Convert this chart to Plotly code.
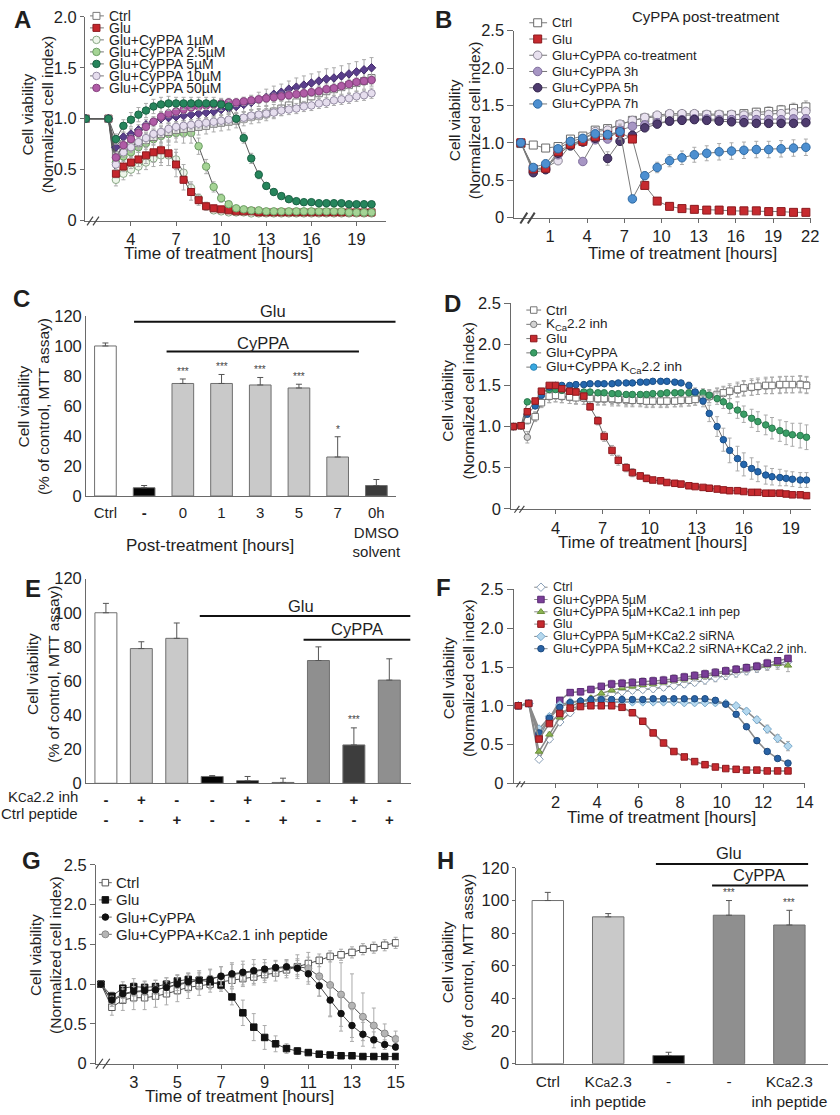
import plotly.graph_objects as go

W, H = 840, 1115
FONT = "Liberation Sans, Arial, Helvetica, sans-serif"
TXT = "#1f1f1f"
AX = "#6a6a6a"
ERR = "#ababab"

# ======================= Panel A =======================
t_A = [1, 2.5, 3, 3.5, 4, 4.5, 5, 5.5, 6, 6.5,
       7, 7.5, 8, 8.5, 9, 9.5, 10, 10.5, 11, 11.5,
       12, 12.5, 13, 13.5, 14, 14.5, 15, 15.5, 16, 16.5,
       17, 17.5, 18, 18.5, 19, 19.5, 20]
A_ctrl = [1.00, 1.00, 0.64, 0.70, 0.73, 0.76, 0.79, 0.82, 0.85, 0.87,
          0.89, 0.90, 0.91, 0.92, 0.93, 0.95, 0.96, 0.97, 0.98, 1.00,
          1.02, 1.03, 1.05, 1.07, 1.10, 1.13, 1.16, 1.19, 1.22, 1.25,
          1.27, 1.29, 1.31, 1.33, 1.35, 1.37, 1.40]
A_glu = [1.00, 1.00, 0.46, 0.53, 0.57, 0.60, 0.64, 0.67, 0.69, 0.66,
         0.55, 0.40, 0.28, 0.20, 0.14, 0.12, 0.11, 0.10, 0.09, 0.09,
         0.09, 0.08, 0.08, 0.08, 0.08, 0.08, 0.08, 0.08, 0.08, 0.08,
         0.08, 0.08, 0.08, 0.08, 0.08, 0.08, 0.08]
A_c1 = [1.00, 1.00, 0.40, 0.46, 0.50, 0.53, 0.57, 0.61, 0.64, 0.64,
        0.60, 0.47, 0.32, 0.22, 0.14, 0.10, 0.09, 0.08, 0.08, 0.08,
        0.07, 0.07, 0.07, 0.07, 0.07, 0.07, 0.07, 0.07, 0.07, 0.07,
        0.07, 0.07, 0.07, 0.07, 0.07, 0.07, 0.07]
A_c25 = [1.00, 1.00, 0.57, 0.63, 0.67, 0.72, 0.76, 0.80, 0.83, 0.85,
         0.86, 0.86, 0.86, 0.73, 0.53, 0.33, 0.22, 0.16, 0.12, 0.11,
         0.10, 0.10, 0.09, 0.09, 0.09, 0.09, 0.09, 0.09, 0.09, 0.09,
         0.09, 0.09, 0.09, 0.08, 0.08, 0.08, 0.08]
A_c5 = [1.00, 1.00, 0.80, 0.93, 0.99, 1.04, 1.08, 1.12, 1.14, 1.15,
        1.15, 1.15, 1.15, 1.15, 1.15, 1.15, 1.14, 1.12, 1.00, 0.81,
        0.61, 0.45, 0.34, 0.28, 0.24, 0.21, 0.19, 0.18, 0.18, 0.17,
        0.17, 0.17, 0.17, 0.16, 0.16, 0.16, 0.16]
A_c10 = [1.00, 1.00, 0.55, 0.67, 0.72, 0.77, 0.81, 0.85, 0.87, 0.90,
         0.92, 0.93, 0.94, 0.95, 0.96, 0.97, 0.98, 0.99, 1.00, 1.01,
         1.03, 1.04, 1.05, 1.06, 1.08, 1.09, 1.10, 1.12, 1.13, 1.15,
         1.16, 1.18, 1.19, 1.20, 1.22, 1.23, 1.25]
A_c50 = [1.00, 1.00, 0.62, 0.74, 0.80, 0.86, 0.92, 0.97, 1.02, 1.05,
         1.07, 1.09, 1.11, 1.12, 1.13, 1.14, 1.15, 1.16, 1.16, 1.17,
         1.18, 1.19, 1.20, 1.21, 1.22, 1.23, 1.24, 1.25, 1.26, 1.27,
         1.29, 1.30, 1.32, 1.34, 1.36, 1.37, 1.38]
A_dia = [1.00, 1.00, 0.72, 0.82, 0.85, 0.89, 0.94, 0.97, 1.00, 1.01,
         1.02, 1.03, 1.04, 1.05, 1.06, 1.07, 1.09, 1.10, 1.12, 1.14,
         1.16, 1.19, 1.21, 1.24, 1.26, 1.29, 1.31, 1.33, 1.35, 1.37,
         1.39, 1.40, 1.42, 1.44, 1.46, 1.48, 1.50]
A_ctrl_err = [0, 0, 0.05, 0.05, 0.06, 0.06, 0.07, 0.07, 0.08, 0.08,
              0.08, 0.08, 0.08, 0.08, 0.08, 0.08, 0.08, 0.08, 0.07, 0.07,
              0.07, 0.07, 0.07, 0.07, 0.07, 0.07, 0.07, 0.07, 0.07, 0.07,
              0.08, 0.08, 0.08, 0.08, 0.08, 0.08, 0.08]
A_glu_err = [0, 0, 0.04, 0.05, 0.06, 0.07, 0.08, 0.10, 0.12, 0.12,
             0.12, 0.10, 0.08, 0.05, 0.04, 0.03, 0.02, 0.02, 0.02, 0.02,
             0.02, 0.02, 0.02, 0.02, 0.02, 0.02, 0.02, 0.02, 0.02, 0.02,
             0.02, 0.02, 0.02, 0.02, 0.02, 0.02, 0.02]
A_c1_err = [0, 0, 0.06, 0.06, 0.06, 0.07, 0.07, 0.08, 0.10, 0.10,
            0.10, 0.08, 0.06, 0.04, 0.03, 0.02, 0.02, 0.02, 0.02, 0.02,
            0.02, 0.02, 0.02, 0.02, 0.02, 0.02, 0.02, 0.02, 0.02, 0.02,
            0.02, 0.02, 0.02, 0.02, 0.02, 0.02, 0.02]
A_c25_err = [0, 0, 0.04, 0.04, 0.05, 0.05, 0.06, 0.06, 0.07, 0.08,
             0.09, 0.10, 0.10, 0.08, 0.07, 0.05, 0.04, 0.03, 0.02, 0.02,
             0.02, 0.02, 0.02, 0.02, 0.02, 0.02, 0.02, 0.02, 0.02, 0.02,
             0.02, 0.02, 0.02, 0.02, 0.02, 0.02, 0.02]
A_c5_err = [0, 0, 0.05, 0.06, 0.07, 0.07, 0.07, 0.07, 0.07, 0.07,
            0.06, 0.06, 0.06, 0.06, 0.06, 0.06, 0.06, 0.06, 0.05, 0.05,
            0.05, 0.04, 0.03, 0.03, 0.02, 0.02, 0.02, 0.02, 0.02, 0.02,
            0.02, 0.02, 0.02, 0.02, 0.02, 0.02, 0.02]
A_c10_err = [0, 0, 0.05, 0.05, 0.05, 0.05, 0.05, 0.05, 0.05, 0.05,
             0.05, 0.05, 0.05, 0.05, 0.05, 0.05, 0.05, 0.05, 0.05, 0.05,
             0.05, 0.05, 0.05, 0.05, 0.05, 0.05, 0.05, 0.05, 0.05, 0.05,
             0.05, 0.05, 0.05, 0.05, 0.05, 0.05, 0.05]
A_c50_err = [0, 0, 0.04, 0.04, 0.04, 0.04, 0.04, 0.04, 0.04, 0.04,
             0.04, 0.04, 0.04, 0.04, 0.04, 0.04, 0.04, 0.04, 0.04, 0.04,
             0.04, 0.04, 0.04, 0.04, 0.04, 0.04, 0.04, 0.04, 0.04, 0.04,
             0.04, 0.04, 0.04, 0.04, 0.04, 0.04, 0.04]
A_dia_err = [0, 0, 0.04, 0.04, 0.05, 0.05, 0.05, 0.05, 0.05, 0.05,
             0.05, 0.05, 0.05, 0.05, 0.06, 0.06, 0.06, 0.06, 0.06, 0.07,
             0.07, 0.07, 0.08, 0.08, 0.08, 0.08, 0.09, 0.09, 0.09, 0.09,
             0.10, 0.10, 0.10, 0.10, 0.10, 0.10, 0.10]

# ======================= Panel B =======================
t_B = [-1.35, -0.35, 0.65, 1.65, 2.65, 3.65, 4.65, 5.65, 6.65, 7.65,
       8.65, 9.65, 10.65, 11.65, 12.65, 13.65, 14.65, 15.65, 16.65, 17.65,
       18.65, 19.65, 20.65, 21.65]
B_ctrl = [0.99, 0.97, 0.93, 0.95, 1.05, 1.09, 1.17, 1.19, 1.24, 1.30,
          1.33, 1.35, 1.37, 1.37, 1.37, 1.37, 1.37, 1.37, 1.39, 1.41,
          1.42, 1.44, 1.46, 1.48]
B_glu = [1.00, 0.65, 0.66, 0.88, 0.98, 1.02, 1.08, 1.10, 1.14, 1.05,
         0.43, 0.22, 0.15, 0.12, 0.11, 0.10, 0.10, 0.09, 0.09, 0.09,
         0.08, 0.08, 0.07, 0.07]
B_co = [1.00, 0.65, 0.67, 0.76, 0.97, 1.05, 1.15, 1.17, 1.25, 1.30,
        1.34, 1.37, 1.39, 1.39, 1.39, 1.38, 1.38, 1.38, 1.37, 1.38,
        1.38, 1.39, 1.40, 1.42]
B_3h = [1.00, 0.63, 0.65, 0.84, 0.97, 0.75, 1.04, 1.05, 1.17, 1.22,
        1.24, 1.27, 1.29, 1.31, 1.32, 1.32, 1.31, 1.31, 1.31, 1.31,
        1.31, 1.31, 1.32, 1.32]
B_5h = [1.00, 0.60, 0.64, 0.86, 0.96, 1.01, 1.06, 0.79, 1.02, 1.10,
        1.20, 1.25, 1.29, 1.30, 1.31, 1.30, 1.29, 1.28, 1.27, 1.26,
        1.26, 1.26, 1.26, 1.27]
B_7h = [1.00, 0.67, 0.72, 0.92, 1.02, 1.06, 1.12, 1.11, 1.15, 0.25,
        0.56, 0.67, 0.76, 0.80, 0.84, 0.86, 0.88, 0.89, 0.90, 0.91,
        0.91, 0.92, 0.93, 0.94]
B_ctrl_err = [0, 0.02, 0.03, 0.03, 0.04, 0.04, 0.04, 0.04, 0.05, 0.05,
              0.05, 0.05, 0.05, 0.04, 0.04, 0.04, 0.04, 0.04, 0.05, 0.05,
              0.06, 0.06, 0.07, 0.08]
B_glu_err = [0, 0.03, 0.03, 0.03, 0.03, 0.03, 0.03, 0.03, 0.03, 0.03,
             0.03, 0.02, 0.02, 0.02, 0.02, 0.02, 0.02, 0.02, 0.02, 0.02,
             0.02, 0.02, 0.02, 0.02]
B_co_err = [0, 0.03, 0.03, 0.04, 0.04, 0.04, 0.04, 0.04, 0.04, 0.04,
            0.04, 0.04, 0.04, 0.04, 0.04, 0.04, 0.04, 0.04, 0.05, 0.05,
            0.05, 0.05, 0.05, 0.05]
B_3h_err = [0, 0.03, 0.03, 0.04, 0.05, 0.03, 0.04, 0.04, 0.04, 0.04,
            0.04, 0.04, 0.04, 0.04, 0.04, 0.04, 0.04, 0.04, 0.04, 0.04,
            0.04, 0.04, 0.04, 0.04]
B_5h_err = [0, 0.03, 0.04, 0.05, 0.06, 0.05, 0.05, 0.09, 0.05, 0.05,
            0.05, 0.05, 0.04, 0.04, 0.04, 0.04, 0.04, 0.04, 0.04, 0.04,
            0.04, 0.04, 0.04, 0.04]
B_7h_err = [0, 0.03, 0.04, 0.04, 0.05, 0.05, 0.05, 0.06, 0.10, 0.03,
            0.05, 0.07, 0.08, 0.09, 0.10, 0.10, 0.11, 0.11, 0.11, 0.11,
            0.11, 0.11, 0.11, 0.11]

# ======================= Panel C =======================
C_cats = ["Ctrl", "<b>-</b>", "0", "1", "3", "5", "7", "0h<br>DMSO<br>solvent"]
C_vals = [100, 5.5, 75, 75, 74, 72, 26, 7]
C_err = [2, 1.5, 3, 6, 5, 2.5, 13.5, 4]
C_sig = ["", "", "***", "***", "***", "***", "*", ""]
C_colors = ["#ffffff", "#050505", "#c9c9c9", "#c9c9c9", "#c9c9c9", "#c9c9c9", "#c9c9c9", "#3b3b3b"]

# ======================= Panel D =======================
t_D = [1.3, 1.8, 2.2, 2.7, 3.1, 3.6, 4.0, 4.4, 4.9, 5.3,
       5.8, 6.2, 6.7, 7.1, 7.6, 8.0, 8.5, 8.9, 9.4, 9.8,
       10.2, 10.7, 11.1, 11.6, 12.0, 12.5, 12.9, 13.4, 13.8, 14.3,
       14.7, 15.1, 15.6, 16.0, 16.5, 16.9, 17.4, 17.8, 18.3, 18.7,
       19.1, 19.6, 20.0]
D_ctrl = [1.00, 1.01, 1.08, 1.12, 1.29, 1.37, 1.38, 1.37, 1.36, 1.35,
          1.35, 1.34, 1.34, 1.34, 1.34, 1.33, 1.33, 1.32, 1.32, 1.31,
          1.31, 1.31, 1.31, 1.31, 1.32, 1.32, 1.33, 1.35, 1.37, 1.39,
          1.41, 1.43, 1.45, 1.47, 1.48, 1.49, 1.50, 1.50, 1.51, 1.51,
          1.51, 1.51, 1.50]
D_kca = [1.00, 1.01, 0.87, 1.12, 1.30, 1.36, 1.37, 1.36, 1.35, 1.35,
         1.34, 1.34, 1.33, 1.33, 1.32, 1.32, 1.31, 1.31, 1.31, 1.30,
         1.30, 1.30, 1.30, 1.31, 1.31, 1.32, 1.33, 1.34, 1.36, 1.38,
         1.40, 1.42, 1.44, 1.46, 1.47, 1.48, 1.49, 1.50, 1.50, 1.51,
         1.51, 1.52, 1.51]
D_glu = [1.00, 1.01, 1.18, 1.31, 1.43, 1.50, 1.50, 1.46, 1.43, 1.42,
         1.37, 1.24, 1.07, 0.88, 0.71, 0.59, 0.50, 0.44, 0.40, 0.37,
         0.35, 0.34, 0.32, 0.31, 0.30, 0.28, 0.27, 0.26, 0.25, 0.24,
         0.23, 0.22, 0.22, 0.21, 0.20, 0.20, 0.19, 0.19, 0.19, 0.18,
         0.17, 0.17, 0.16]
D_cy = [1.00, 1.01, 1.30, 1.30, 1.42, 1.45, 1.45, 1.44, 1.43, 1.43,
        1.42, 1.42, 1.41, 1.41, 1.40, 1.40, 1.39, 1.39, 1.39, 1.39,
        1.40, 1.40, 1.41, 1.41, 1.41, 1.41, 1.41, 1.41, 1.38, 1.34,
        1.30, 1.25, 1.20, 1.15, 1.10, 1.06, 1.02, 0.98, 0.95, 0.92,
        0.90, 0.89, 0.87]
D_cyinh = [1.00, 1.01, 1.15, 1.25, 1.38, 1.48, 1.50, 1.50, 1.50, 1.51,
           1.51, 1.52, 1.52, 1.52, 1.52, 1.53, 1.53, 1.53, 1.54, 1.54,
           1.55, 1.55, 1.55, 1.54, 1.53, 1.50, 1.42, 1.31, 1.16, 1.00,
           0.84, 0.71, 0.61, 0.54, 0.49, 0.45, 0.41, 0.39, 0.38, 0.37,
           0.36, 0.35, 0.35]
D_ctrl_err = [0, 0, 0.05, 0.05, 0.06, 0.08, 0.08, 0.08, 0.08, 0.08,
              0.08, 0.08, 0.07, 0.07, 0.07, 0.07, 0.07, 0.07, 0.07, 0.07,
              0.07, 0.07, 0.07, 0.07, 0.07, 0.07, 0.07, 0.07, 0.08, 0.08,
              0.08, 0.09, 0.09, 0.09, 0.10, 0.10, 0.10, 0.10, 0.10, 0.10,
              0.10, 0.10, 0.10]
D_kca_err = [0, 0, 0.07, 0.06, 0.06, 0.07, 0.07, 0.07, 0.07, 0.07,
             0.07, 0.07, 0.07, 0.07, 0.07, 0.07, 0.07, 0.07, 0.07, 0.07,
             0.07, 0.07, 0.07, 0.07, 0.07, 0.07, 0.07, 0.07, 0.07, 0.08,
             0.08, 0.08, 0.08, 0.09, 0.09, 0.09, 0.09, 0.10, 0.10, 0.10,
             0.10, 0.10, 0.10]
D_glu_err = [0, 0, 0.03, 0.03, 0.03, 0.03, 0.03, 0.03, 0.03, 0.03,
             0.03, 0.04, 0.05, 0.06, 0.06, 0.06, 0.05, 0.05, 0.04, 0.04,
             0.03, 0.03, 0.03, 0.02, 0.02, 0.02, 0.02, 0.02, 0.02, 0.02,
             0.02, 0.02, 0.02, 0.02, 0.02, 0.02, 0.02, 0.02, 0.02, 0.02,
             0.02, 0.02, 0.02]
D_cy_err = [0, 0, 0.03, 0.03, 0.03, 0.03, 0.03, 0.03, 0.03, 0.03,
            0.03, 0.03, 0.03, 0.03, 0.03, 0.03, 0.03, 0.03, 0.03, 0.03,
            0.03, 0.03, 0.03, 0.03, 0.03, 0.04, 0.04, 0.05, 0.06, 0.07,
            0.08, 0.09, 0.10, 0.10, 0.11, 0.12, 0.12, 0.13, 0.13, 0.14,
            0.14, 0.15, 0.15]
D_cyinh_err = [0, 0, 0.03, 0.03, 0.03, 0.03, 0.03, 0.03, 0.03, 0.03,
               0.03, 0.03, 0.03, 0.03, 0.03, 0.03, 0.03, 0.03, 0.03, 0.03,
               0.03, 0.03, 0.03, 0.03, 0.03, 0.04, 0.05, 0.07, 0.10, 0.12,
               0.14, 0.15, 0.15, 0.14, 0.13, 0.12, 0.11, 0.10, 0.10, 0.09,
               0.09, 0.09, 0.09]

# ======================= Panel E =======================
E_kca = ["-", "+", "-", "-", "+", "-", "-", "+", "-"]
E_pep = ["-", "-", "+", "-", "-", "+", "-", "-", "+"]
E_vals = [100, 79, 85, 4, 1.5, 0.5, 72, 22.5, 60.5]
E_err = [5.5, 4, 9, 0.5, 2.5, 2.5, 8, 10, 12.5]
E_sig = ["", "", "", "", "", "", "", "***", ""]
E_colors = ["#ffffff", "#c9c9c9", "#c9c9c9", "#050505", "#050505", "#050505", "#8f8f8f", "#3d3d3d", "#8f8f8f"]

# ======================= Panel F =======================
t_F = [0.2, 0.7, 1.2, 1.7, 2.2, 2.7, 3.2, 3.7, 4.2, 4.7,
       5.2, 5.7, 6.2, 6.7, 7.2, 7.7, 8.2, 8.7, 9.2, 9.7,
       10.2, 10.7, 11.2, 11.7, 12.2, 12.7, 13.2]
F_ctrl = [1.00, 1.03, 0.31, 0.57, 0.79, 0.91, 1.00, 1.05, 1.10, 1.15,
          1.18, 1.20, 1.21, 1.22, 1.24, 1.26, 1.28, 1.30, 1.33, 1.36,
          1.39, 1.42, 1.45, 1.48, 1.51, 1.54, 1.57]
F_cy5 = [1.00, 1.03, 0.60, 0.83, 1.07, 1.17, 1.18, 1.21, 1.25, 1.28,
         1.29, 1.30, 1.31, 1.32, 1.33, 1.35, 1.37, 1.39, 1.41, 1.43,
         1.45, 1.47, 1.49, 1.51, 1.55, 1.58, 1.61]
F_k21 = [1.00, 1.03, 0.41, 0.63, 0.85, 0.99, 1.05, 1.10, 1.16, 1.20,
         1.23, 1.25, 1.27, 1.28, 1.30, 1.32, 1.34, 1.36, 1.38, 1.41,
         1.43, 1.46, 1.48, 1.50, 1.52, 1.54, 1.52]
F_glu = [1.00, 1.03, 0.57, 0.77, 0.90, 0.97, 0.99, 1.00, 1.00, 1.00,
         0.98, 0.91, 0.80, 0.65, 0.52, 0.41, 0.34, 0.28, 0.24, 0.21,
         0.19, 0.18, 0.17, 0.17, 0.16, 0.16, 0.16]
F_si = [1.00, 1.03, 0.70, 0.86, 1.01, 1.05, 1.06, 1.06, 1.06, 1.05,
        1.05, 1.05, 1.05, 1.05, 1.05, 1.05, 1.04, 1.04, 1.04, 1.04,
        1.03, 1.00, 0.93, 0.82, 0.70, 0.58, 0.48]
F_siinh = [1.00, 1.03, 0.65, 0.84, 0.98, 1.04, 1.06, 1.08, 1.08, 1.08,
           1.08, 1.08, 1.08, 1.09, 1.09, 1.09, 1.09, 1.09, 1.09, 1.07,
           1.02, 0.89, 0.73, 0.55, 0.41, 0.32, 0.26]
F_ctrl_err = [0, 0, 0.03, 0.04, 0.04, 0.04, 0.04, 0.04, 0.04, 0.04,
              0.04, 0.04, 0.04, 0.04, 0.04, 0.04, 0.04, 0.04, 0.05, 0.05,
              0.05, 0.05, 0.05, 0.05, 0.05, 0.05, 0.05]
F_cy5_err = [0, 0, 0.03, 0.03, 0.03, 0.03, 0.04, 0.04, 0.04, 0.05,
             0.05, 0.05, 0.05, 0.05, 0.05, 0.05, 0.05, 0.05, 0.05, 0.05,
             0.05, 0.05, 0.05, 0.05, 0.05, 0.04, 0.04]
F_k21_err = [0, 0, 0.03, 0.03, 0.03, 0.03, 0.03, 0.03, 0.03, 0.03,
             0.03, 0.03, 0.03, 0.03, 0.03, 0.03, 0.04, 0.04, 0.04, 0.04,
             0.05, 0.05, 0.05, 0.05, 0.06, 0.07, 0.08]
F_glu_err = [0, 0, 0.02, 0.02, 0.02, 0.02, 0.02, 0.02, 0.02, 0.02,
             0.02, 0.02, 0.02, 0.02, 0.02, 0.02, 0.02, 0.02, 0.02, 0.02,
             0.02, 0.02, 0.02, 0.02, 0.02, 0.02, 0.02]
F_si_err = [0, 0, 0.03, 0.03, 0.03, 0.03, 0.03, 0.03, 0.03, 0.03,
            0.03, 0.03, 0.03, 0.03, 0.03, 0.03, 0.03, 0.03, 0.03, 0.03,
            0.03, 0.03, 0.03, 0.04, 0.05, 0.05, 0.06]
F_siinh_err = [0, 0, 0.03, 0.03, 0.03, 0.03, 0.03, 0.03, 0.03, 0.03,
               0.03, 0.03, 0.03, 0.03, 0.03, 0.03, 0.03, 0.03, 0.03, 0.03,
               0.03, 0.03, 0.03, 0.03, 0.03, 0.03, 0.03]

# ======================= Panel G =======================
t_G = [1.5, 2.0, 2.5, 3.0, 3.5, 4.0, 4.5, 5.0, 5.5, 6.0,
       6.5, 7.0, 7.5, 8.0, 8.5, 9.0, 9.5, 10.0, 10.5, 11.0,
       11.5, 12.0, 12.5, 13.0, 13.5, 14.0, 14.5, 15.0]
G_ctrl = [1.00, 0.71, 0.80, 0.83, 0.83, 0.85, 0.88, 0.92, 0.96, 0.98,
          1.00, 1.03, 1.05, 1.07, 1.09, 1.12, 1.14, 1.18, 1.22, 1.26,
          1.30, 1.35, 1.37, 1.40, 1.44, 1.46, 1.49, 1.52]
G_glu = [1.00, 0.85, 0.95, 0.97, 0.96, 0.97, 1.00, 1.04, 1.06, 1.05,
         1.03, 0.99, 0.84, 0.64, 0.46, 0.33, 0.25, 0.19, 0.16, 0.14,
         0.12, 0.11, 0.10, 0.10, 0.09, 0.09, 0.09, 0.09]
G_cy = [1.00, 0.80, 0.88, 0.91, 0.92, 0.93, 0.96, 1.00, 1.03, 1.05,
        1.06, 1.10, 1.13, 1.15, 1.17, 1.19, 1.21, 1.22, 1.20, 1.13,
        0.98, 0.80, 0.63, 0.48, 0.37, 0.30, 0.24, 0.21]
G_k21 = [1.00, 0.78, 0.87, 0.90, 0.91, 0.93, 0.96, 0.99, 1.02, 1.05,
         1.07, 1.10, 1.12, 1.14, 1.16, 1.18, 1.20, 1.21, 1.22, 1.20,
         1.10, 0.99, 0.87, 0.73, 0.59, 0.48, 0.38, 0.31]
G_ctrl_err = [0, 0.10, 0.13, 0.15, 0.15, 0.14, 0.14, 0.14, 0.14, 0.12,
              0.10, 0.10, 0.10, 0.10, 0.10, 0.10, 0.10, 0.10, 0.10, 0.08,
              0.08, 0.07, 0.07, 0.07, 0.07, 0.07, 0.07, 0.07]
G_glu_err = [0, 0.05, 0.08, 0.10, 0.08, 0.08, 0.08, 0.08, 0.08, 0.08,
             0.08, 0.08, 0.10, 0.16, 0.17, 0.15, 0.10, 0.06, 0.04, 0.03,
             0.02, 0.02, 0.02, 0.02, 0.02, 0.02, 0.02, 0.02]
G_cy_err = [0, 0.05, 0.06, 0.06, 0.06, 0.06, 0.07, 0.08, 0.10, 0.10,
            0.12, 0.12, 0.12, 0.10, 0.08, 0.08, 0.08, 0.08, 0.10, 0.10,
            0.13, 0.20, 0.22, 0.20, 0.15, 0.10, 0.06, 0.04]
G_k21_err = [0, 0.06, 0.10, 0.12, 0.12, 0.12, 0.12, 0.12, 0.12, 0.12,
             0.12, 0.12, 0.15, 0.15, 0.15, 0.13, 0.10, 0.10, 0.15, 0.20,
             0.25, 0.40, 0.40, 0.40, 0.30, 0.22, 0.12, 0.10]

# ======================= Panel H =======================
KCA23 = "K<span style='font-size:12px'>Ca</span>2.3<br>inh peptide"
H_cats = ["Ctrl", KCA23, "-", "-", KCA23]
H_vals = [100, 90, 5, 91, 85]
H_err = [5, 2, 2, 9, 9]
H_sig = ["", "", "", "***", "***"]
H_colors = ["#ffffff", "#c9c9c9", "#050505", "#8f8f8f", "#8f8f8f"]

# ---------- sanity ----------
for tt, group in [(t_A, [A_ctrl, A_glu, A_c1, A_c25, A_c5, A_c10, A_c50, A_dia, A_ctrl_err, A_glu_err,
                         A_c1_err, A_c25_err, A_c5_err, A_c10_err, A_c50_err, A_dia_err]),
                  (t_B, [B_ctrl, B_glu, B_co, B_3h, B_5h, B_7h, B_ctrl_err, B_glu_err, B_co_err,
                         B_3h_err, B_5h_err, B_7h_err]),
                  (t_D, [D_ctrl, D_kca, D_glu, D_cy, D_cyinh, D_ctrl_err, D_kca_err, D_glu_err,
                         D_cy_err, D_cyinh_err]),
                  (t_F, [F_ctrl, F_cy5, F_k21, F_glu, F_si, F_siinh, F_ctrl_err, F_cy5_err,
                         F_k21_err, F_glu_err, F_si_err, F_siinh_err]),
                  (t_G, [G_ctrl, G_glu, G_cy, G_k21, G_ctrl_err, G_glu_err, G_cy_err, G_k21_err])]:
    for arr in group:
        assert len(arr) == len(tt), (len(tt), len(arr))

# ======================= figure =======================
fig = go.Figure()
ann = []
shp = []


def mk(symbol, fill, edge, size):
    return dict(symbol=symbol, color=fill, size=size, line=dict(color=edge, width=1))


def series(ax, t, y, err, marker, lc, lw=1.0):
    fig.add_trace(go.Scatter(
        x=t, y=y, mode="lines+markers", xaxis="x" + ax, yaxis="y" + ax,
        line=dict(color=lc, width=lw), marker=marker, showlegend=False, hoverinfo="skip",
        error_y=dict(type="data", array=err, color=ERR, thickness=1, width=2)))


def key(x0, x1, xm, y, marker, lc, text, tx, fs):
    fig.add_trace(go.Scatter(x=[x0, x1], y=[y, y], mode="lines", xaxis="x9", yaxis="y9",
                             line=dict(color=lc, width=1), showlegend=False, hoverinfo="skip"))
    fig.add_trace(go.Scatter(x=[xm], y=[y], mode="markers", xaxis="x9", yaxis="y9",
                             marker=marker, showlegend=False, hoverinfo="skip"))
    ann.append(dict(x=tx, y=y, xref="x9", yref="y9", text=text, showarrow=False,
                    xanchor="left", yanchor="middle", font=dict(size=fs, color=TXT)))


def bars(ax, vals, err, colors, width):
    fig.add_trace(go.Bar(
        x=list(range(len(vals))), y=vals, xaxis="x" + ax, yaxis="y" + ax, width=width,
        marker=dict(color=colors, line=dict(color="#6f6f6f", width=1)),
        error_y=dict(type="data", symmetric=False, array=err, arrayminus=[0 for _ in vals],
                     color="#555555", thickness=1, width=3),
        showlegend=False, hoverinfo="skip"))


def txt(x, y, s, size=16, xref="x9", yref="y9", color=TXT, **kw):
    d = dict(x=x, y=y, xref=xref, yref=yref, text=s, showarrow=False,
             font=dict(size=size, color=color), xanchor="center", yanchor="middle")
    d.update(kw)
    ann.append(d)


# ---- Panel A ----
stA = {
    "ctrl": mk("square", "#ffffff", "#7a7a7a", 7),
    "glu": mk("square", "#c4262c", "#8c1a1f", 7),
    "c1": mk("circle", "#eef6ea", "#8aa886", 7.5),
    "c25": mk("circle", "#a5d495", "#6e9e66", 7.5),
    "c5": mk("circle", "#26855c", "#1b6244", 7.5),
    "c10": mk("circle", "#e6deee", "#978ea6", 7.5),
    "c50": mk("circle", "#b05ca6", "#874280", 7.5),
    "dia": mk("diamond", "#5a3e8c", "#42296a", 6.5),
}
LA = "#5a5a5a"
series("", t_A, A_c1, A_c1_err, stA["c1"], LA)
series("", t_A, A_glu, A_glu_err, stA["glu"], LA)
series("", t_A, A_c25, A_c25_err, stA["c25"], LA)
series("", t_A, A_ctrl, A_ctrl_err, stA["ctrl"], LA)
series("", t_A, A_c10, A_c10_err, stA["c10"], LA)
series("", t_A, A_dia, A_dia_err, stA["dia"], LA)
series("", t_A, A_c50, A_c50_err, stA["c50"], LA)
series("", t_A, A_c5, A_c5_err, stA["c5"], LA)
for i, (k, label) in enumerate([("ctrl", "Ctrl"), ("glu", "Glu"), ("c1", "Glu+CyPPA 1µM"),
                                ("c25", "Glu+CyPPA 2.5µM"), ("c5", "Glu+CyPPA 5µM"),
                                ("c10", "Glu+CyPPA 10µM"), ("c50", "Glu+CyPPA 50µM")]):
    key(91, 105, 97.5, 7 + 12.2 * i, stA[k], "#777777", label, 108, 14)

# ---- Panel B ----
stB = {
    "ctrl": mk("square", "#ffffff", "#6a6a6a", 8),
    "glu": mk("square", "#c62a2f", "#8c1a1f", 8),
    "co": mk("circle", "#e8e1ef", "#8d8797", 8.5),
    "3h": mk("circle", "#a796c4", "#7d6b9b", 8.5),
    "5h": mk("circle", "#4e3b6e", "#33254d", 8.5),
    "7h": mk("circle", "#4d8fd0", "#2e6aa3", 8.5),
}
LB = "#7a7a7a"
series("2", t_B, B_ctrl, B_ctrl_err, stB["ctrl"], LB)
series("2", t_B, B_co, B_co_err, stB["co"], LB)
series("2", t_B, B_3h, B_3h_err, stB["3h"], LB)
series("2", t_B, B_5h, B_5h_err, stB["5h"], LB)
series("2", t_B, B_glu, B_glu_err, stB["glu"], LB)
series("2", t_B, B_7h, B_7h_err, stB["7h"], LB)
for i, (k, label) in enumerate([("ctrl", "Ctrl"), ("glu", "Glu"), ("co", "Glu+CyPPA co-treatment"),
                                ("3h", "Glu+CyPPA 3h"), ("5h", "Glu+CyPPA 5h"), ("7h", "Glu+CyPPA 7h")]):
    key(535, 553, 543.5, 14 + 16.5 * i, stB[k], "#777777", label, 555.5, 13)
txt(714, 8, "CyPPA post-treatment", size=15)

# ---- Panel C ----
bars("3", C_vals, C_err, C_colors, 0.56)
for i, s in enumerate(C_sig):
    if s:
        txt(i, C_vals[i] + C_err[i] + 5, s, size=10, xref="x3", yref="y3", color="#444444")

# ---- Panel D ----
stD = {
    "ctrl": mk("square", "#ffffff", "#777777", 6.5),
    "kca": mk("circle", "#d2d2d2", "#777777", 6.5),
    "glu": mk("square", "#c62a2f", "#8c1a1f", 6.5),
    "cy": mk("circle", "#3a9e66", "#2a7a4e", 6.5),
    "cyinh": mk("circle", "#2466ad", "#1a4f88", 6.5),
}
LD = "#666666"
series("4", t_D, D_kca, D_kca_err, stD["kca"], LD)
series("4", t_D, D_ctrl, D_ctrl_err, stD["ctrl"], LD)
series("4", t_D, D_cy, D_cy_err, stD["cy"], LD)
series("4", t_D, D_cyinh, D_cyinh_err, stD["cyinh"], LD)
series("4", t_D, D_glu, D_glu_err, stD["glu"], LD)
keyD = [("ctrl", "Ctrl", stD["ctrl"]), ("kca", "K<sub>Ca</sub>2.2 inh", stD["kca"]),
        ("glu", "Glu", stD["glu"]), ("cy", "Glu+CyPPA", stD["cy"]),
        ("cyinh", "Glu+CyPPA K<sub>Ca</sub>2.2 inh", mk("circle", "#38a8e0", "#2a86b8", 6.5))]
for i, (k, label, m) in enumerate(keyD):
    key(532, 547, 539.5, 306 + 14.5 * i, m, "#777777", label, 549.5, 13.5)

# ---- Panel E ----
bars("5", E_vals, E_err, E_colors, 0.62)
for i, s in enumerate(E_sig):
    if s:
        txt(i, E_vals[i] + E_err[i] + 5, s, size=10, xref="x5", yref="y5", color="#444444")

# ---- Panel F ----
stF = {
    "ctrl": mk("diamond", "#ffffff", "#8aa0b8", 6.5),
    "cy5": mk("square", "#7a3e98", "#5a2a74", 6.5),
    "k21": mk("triangle-up", "#8db553", "#6a8f3a", 6.5),
    "glu": mk("square", "#c62a2f", "#8c1a1f", 6.5),
    "si": mk("diamond", "#b5d8ee", "#7aaacc", 6.5),
    "siinh": mk("circle", "#2a63a5", "#1d4b80", 6.5),
}
LF = "#8a8a8a"
series("6", t_F, F_ctrl, F_ctrl_err, stF["ctrl"], LF, 1.5)
series("6", t_F, F_k21, F_k21_err, stF["k21"], LF, 1.5)
series("6", t_F, F_cy5, F_cy5_err, stF["cy5"], LF, 1.5)
series("6", t_F, F_si, F_si_err, stF["si"], LF, 1.5)
series("6", t_F, F_siinh, F_siinh_err, stF["siinh"], LF, 1.5)
series("6", t_F, F_glu, F_glu_err, stF["glu"], LF, 1.5)
for i, (k, label) in enumerate([("ctrl", "Ctrl"), ("cy5", "Glu+CyPPA 5µM"),
                                ("k21", "Glu+CyPPA 5µM+KCa2.1 inh pep"), ("glu", "Glu"),
                                ("si", "Glu+CyPPA 5µM+KCa2.2 siRNA"),
                                ("siinh", "Glu+CyPPA 5µM+KCa2.2 siRNA+KCa2.2 inh.")]):
    key(540, 553.5, 546.8, 587.7 + 12.5 * i, stF[k], "#888888", label, 556.5, 12.5)

# ---- Panel G ----
stG = {
    "ctrl": mk("square", "#ffffff", "#555555", 6.5),
    "glu": mk("square", "#111111", "#111111", 6.5),
    "cy": mk("circle", "#111111", "#111111", 6.5),
    "k21": mk("circle", "#b5b5b5", "#8a8a8a", 7),
}
LG = "#4a4a4a"
series("7", t_G, G_ctrl, G_ctrl_err, stG["ctrl"], LG)
series("7", t_G, G_glu, G_glu_err, stG["glu"], LG)
series("7", t_G, G_k21, G_k21_err, stG["k21"], LG)
series("7", t_G, G_cy, G_cy_err, stG["cy"], LG)
for i, (k, label) in enumerate([("ctrl", "Ctrl"), ("glu", "Glu"), ("cy", "Glu+CyPPA"),
                                ("k21", "Glu+CyPPA+K<span style='font-size:12px'>Ca</span>2.1 inh peptide")]):
    key(100, 113, 106.5, 888 + 17.5 * i, stG[k], "#666666", label, 115.5, 15)

# ---- Panel H ----
bars("8", H_vals, H_err, H_colors, 0.52)
for i, s in enumerate(H_sig):
    if s:
        txt(i, H_vals[i] + H_err[i] + 5, s, size=10, xref="x8", yref="y8", color="#444444")


# ---- treatment brackets (bar panels) ----
def bracket(ax, x0, x1, ypx, label, lx, lypx):
    shp.append(dict(type="line", xref="x" + ax, yref="paper", x0=x0, x1=x1,
                    y0=1 - ypx / H, y1=1 - ypx / H, line=dict(color="#111111", width=2)))
    txt(lx, lypx, label, size=16.5, xref="x" + ax, yref="y9")


bracket("3", 0.74, 7.5, 318, "Glu", 4.33, 307)
bracket("3", 1.58, 6.55, 348, "CyPPA", 4.07, 339)
bracket("5", 2.65, 8.6, 617, "Glu", 5.5, 607)
bracket("5", 5.58, 8.6, 641, "CyPPA", 7.1, 630)
bracket("8", 1.79, 4.31, 869, "Glu", 3.0, 858)
bracket("8", 2.72, 4.31, 891, "CyPPA", 3.5, 880)

# ---- axis break marks ----
for (ax0, ay0, ax1, ay1, w) in [(88, 220, 94, 211, 1.2), (94, 220, 100, 211, 1.2),
                                (526, 218, 533, 207, 2), (533.5, 218, 540.5, 207, 2),
                                (520, 512, 525, 505, 1.2), (525, 512, 530, 505, 1.2),
                                (522, 791, 526, 785, 1.2), (526.5, 791, 530.5, 785, 1.2),
                                (97, 1077, 104, 1067, 1.2), (104, 1077, 111, 1067, 1.2)]:
    shp.append(dict(type="line", xref="x9", yref="y9", x0=ax0, y0=ay0, x1=ax1, y1=ay1,
                    line=dict(color="#444444", width=w)))

# ---- titles / labels ----
VI = "Cell viability<br>(Normalized cell index)"
VM = "Cell viability<br>(% of control, MTT assay)"
for (x, y, s) in [(37.5, 107, VI), (469, 113, VI), (34, 404, VM), (463, 398, VI),
                  (43, 676, VM), (463, 680, VI), (46, 962, VI), (462.5, 969, VM)]:
    txt(x, y, s, size=15.5, textangle=-90)

TT = "Time of treatment [hours]"
for (x, y) in [(221, 249), (690, 248), (660, 542), (669, 822), (242, 1105)]:
    txt(x, y, TT, size=17)
txt(212, 545, "Post-treatment [hours]", size=17)

txt(81, 800, "K<span style='font-size:12px'>Ca</span>2.2 inh", size=15, xanchor="right")
txt(81, 818, "Ctrl peptide", size=15, xanchor="right")

for (x, y, s) in [(23, 11, "A"), (448, 11, "B"), (22, 294, "C"), (457, 299, "D"),
                  (33, 589, "E"), (448, 588, "F"), (32, 865, "G"), (450, 865, "H")]:
    txt(x, y, "<b>%s</b>" % s, size=24)


# ---- axes ----
def dom_x(a, b):
    return [a / W, b / W]


def dom_y(top, bottom):
    return [1 - bottom / H, 1 - top / H]


def axis(dom, rng, anchor, tickvals, ticktext=None, size=16.5, ticks="outside", tickcolor=AX, ticklen=4):
    d = dict(domain=dom, range=rng, anchor=anchor, showline=True, linecolor=AX, linewidth=1,
             ticks=ticks, ticklen=ticklen, tickcolor=tickcolor, tickwidth=1, showgrid=False,
             zeroline=False, fixedrange=True, tickmode="array", tickvals=tickvals,
             tickfont=dict(size=size, color=TXT, family=FONT))
    if ticktext is not None:
        d["ticktext"] = ticktext
    return d


Y25 = [0, 0.5, 1.0, 1.5, 2.0, 2.5]
Y25T = ["0", "0.5", "1.0", "1.5", "2.0", "2.5"]
Y120 = [0, 20, 40, 60, 80, 100, 120]
Y120T = ["0", "20", "40", "60", "80", "100", "120"]
CLEAR = "rgba(0,0,0,0)"

layout = dict(
    xaxis=axis(dom_x(86, 390), [0.95, 20.95], "y", [4, 7, 10, 13, 16, 19]),
    yaxis=axis(dom_y(8, 215), [0, 2.0], "x", Y25[:5], Y25T[:5], ticklen=4),
    xaxis2=axis(dom_x(520, 820), [-1.87, 22.08], "y2", [1, 4, 7, 10, 13, 16, 19, 22]),
    yaxis2=axis(dom_y(22, 212), [0, 2.5], "x2", Y25, Y25T, ticklen=6),
    xaxis3=axis(dom_x(87, 400), [-0.5, 7.5], "y3", list(range(len(C_cats))), C_cats, size=15,
                tickcolor=CLEAR, ticklen=3),
    yaxis3=axis(dom_y(312, 495), [0, 120], "x3", Y120, Y120T, tickcolor=CLEAR, ticklen=0),
    xaxis4=axis(dom_x(516.7, 820), [1.17, 20.3], "y4", [4, 7, 10, 13, 16, 19]),
    yaxis4=axis(dom_y(299, 508), [0, 2.5], "x4", Y25, Y25T, ticklen=6),
    xaxis5=axis(dom_x(87, 415), [-0.56, 8.6], "y5", list(range(len(E_vals))),
                ["<b>%s</b><br><b>%s</b>" % (a, b) for a, b in zip(E_kca, E_pep)], size=15,
                tickcolor=CLEAR, ticklen=3),
    yaxis5=axis(dom_y(579, 787), [0, 120], "x5", Y120, Y120T, tickcolor=CLEAR, ticklen=0),
    xaxis6=axis(dom_x(519.3, 813.3), [-0.02, 14.0], "y6", [2, 4, 6, 8, 10, 12, 14]),
    yaxis6=axis(dom_y(590, 787), [0, 2.5], "x6", Y25, Y25T, ticklen=6),
    xaxis7=axis(dom_x(97, 403), [1.27, 15.14], "y7", [3, 5, 7, 9, 11, 13, 15]),
    yaxis7=axis(dom_y(870, 1072), [0, 2.5], "x7", Y25, Y25T, ticklen=5),
    xaxis8=axis(dom_x(522, 837), [-0.52, 4.64], "y8", list(range(len(H_cats))), H_cats, size=15.5,
                tickcolor=CLEAR, ticklen=4),
    yaxis8=axis(dom_y(873, 1072), [0, 120], "x8", Y120, Y120T, ticklen=3),
    xaxis9=dict(domain=[0, 1], range=[0, W], anchor="y9", visible=False, fixedrange=True),
    yaxis9=dict(domain=[0, 1], range=[H, 0], anchor="x9", visible=False, fixedrange=True),
)

fig.update_layout(
    width=W, height=H, margin=dict(l=0, r=0, t=0, b=0, pad=0),
    paper_bgcolor="#ffffff", plot_bgcolor=CLEAR, showlegend=False,
    font=dict(family=FONT, color=TXT, size=14),
    bargap=0.4, annotations=ann, shapes=shp, **layout)

fig.write_html("out.html", include_plotlyjs=True, full_html=True,
               config={"displayModeBar": False, "staticPlot": True},
               post_script="document.body.style.margin='0';document.body.style.overflow='hidden';")
